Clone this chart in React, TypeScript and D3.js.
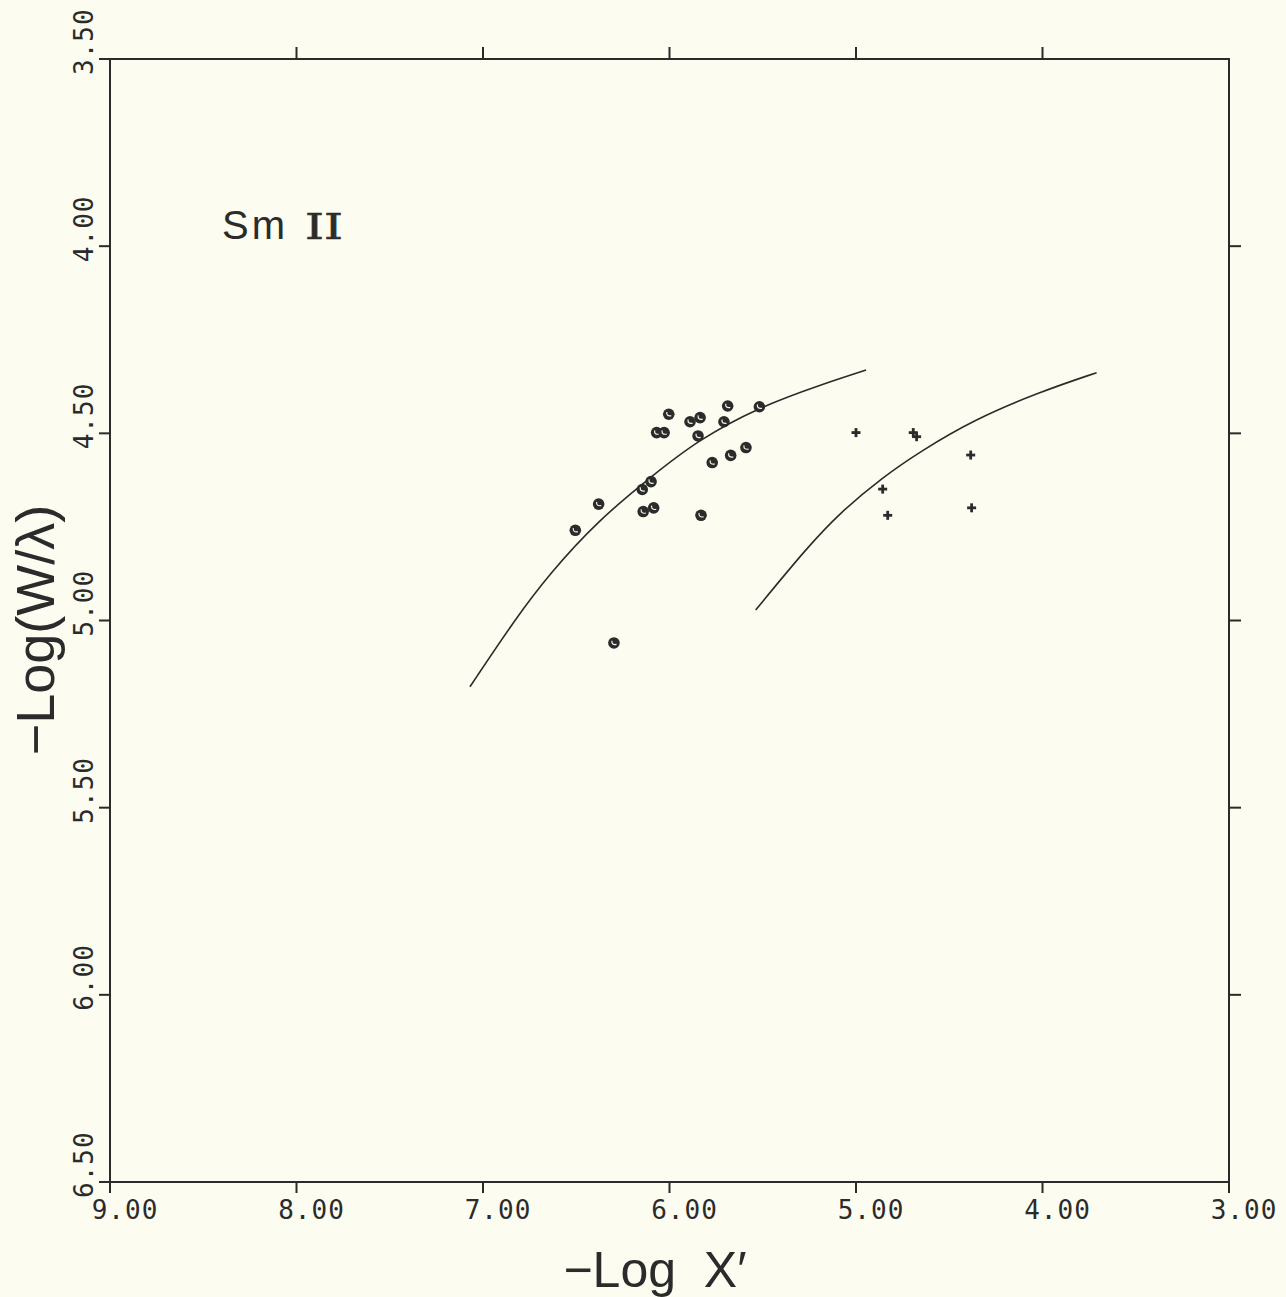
import React from "react";
import * as d3 from "d3";

const xTicks = [9, 8, 7, 6, 5, 4, 3];
const yTicks = [3.5, 4.0, 4.5, 5.0, 5.5, 6.0, 6.5];

const circleX = [6.004, 5.89, 5.836, 5.688, 5.518, 5.708, 6.069, 6.029, 5.847, 5.771, 5.672, 5.59, 6.099, 6.146, 6.38, 6.505, 6.141, 6.085, 5.831, 6.298];
const circleY = [4.449, 4.469, 4.458, 4.427, 4.429, 4.469, 4.498, 4.498, 4.507, 4.578, 4.559, 4.538, 4.629, 4.65, 4.689, 4.759, 4.709, 4.699, 4.719, 5.06];

const crossX = [5.0, 4.693, 4.675, 4.385, 4.857, 4.83, 4.38];
const crossY = [4.498, 4.498, 4.509, 4.558, 4.649, 4.719, 4.699];

const curve1X = [7.07, 6.819, 6.641, 6.39, 6.099, 5.847, 5.52, 5.193, 4.946];
const curve1Y = [5.177, 4.99, 4.874, 4.736, 4.616, 4.518, 4.43, 4.371, 4.331];

const curve2X = [5.538, 5.264, 5.086, 4.854, 4.657, 4.371, 4.013, 3.71];
const curve2Y = [4.972, 4.806, 4.712, 4.616, 4.549, 4.464, 4.389, 4.338];

const W = 1286;
const H = 1297;
const INK = "#2b2b2b";

export default function App() {
  const x = d3.scaleLinear().domain([9, 3]).range([110, 1229]);
  const y = d3.scaleLinear().domain([3.5, 6.5]).range([59, 1182]);

  const line = d3
    .line<[number, number]>()
    .x((d) => x(d[0]))
    .y((d) => y(d[1]))
    .curve(d3.curveBasis);

  const c1 = curve1X.map((v, i) => [v, curve1Y[i]] as [number, number]);
  const c2 = curve2X.map((v, i) => [v, curve2Y[i]] as [number, number]);

  const tickFont = "'DejaVu Sans Mono', monospace";
  const labelFont = "'Liberation Sans', 'DejaVu Sans', sans-serif";

  return (
    <svg
      width={W}
      height={H}
      style={{ position: "absolute", left: 0, top: 0, display: "block" }}
    >
      <rect x={0} y={0} width={W} height={H} fill="#fcfcf0" />
      {/* frame */}
      <rect
        x={x(9)}
        y={y(3.5)}
        width={x(3) - x(9)}
        height={y(6.5) - y(3.5)}
        fill="none"
        stroke={INK}
        strokeWidth={2}
      />
      {/* top ticks */}
      {xTicks.slice(1, -1).map((t) => (
        <line key={"tt" + t} x1={x(t)} x2={x(t)} y1={y(3.5)} y2={y(3.5) - 12} stroke={INK} strokeWidth={2} />
      ))}
      {/* bottom ticks */}
      {xTicks.map((t) => (
        <line key={"bt" + t} x1={x(t)} x2={x(t)} y1={y(6.5)} y2={y(6.5) + 11} stroke={INK} strokeWidth={2} />
      ))}
      {/* left ticks */}
      {yTicks.map((t) => (
        <line key={"lt" + t} x1={x(9)} x2={x(9) - 11} y1={y(t)} y2={y(t)} stroke={INK} strokeWidth={2} />
      ))}
      {/* right ticks */}
      {yTicks.slice(1, -1).map((t) => (
        <line key={"rt" + t} x1={x(3)} x2={x(3) + 12} y1={y(t)} y2={y(t)} stroke={INK} strokeWidth={2} />
      ))}
      {/* x tick labels */}
      {xTicks.map((t) => (
        <text
          key={"xl" + t}
          x={x(t) + 15}
          y={y(6.5) + 37}
          textAnchor="middle"
          fontFamily={tickFont}
          fontSize={26}
          letterSpacing={1}
          fill={INK}
        >
          {t.toFixed(2)}
        </text>
      ))}
      {/* y tick labels */}
      {yTicks.map((t) => (
        <text
          key={"yl" + t}
          transform={`translate(${x(9) - 17},${y(t) + 16}) rotate(-90)`}
          textAnchor="start"
          fontFamily={tickFont}
          fontSize={26}
          letterSpacing={1}
          fill={INK}
        >
          {t.toFixed(2)}
        </text>
      ))}
      {/* axis titles */}
      <text
        x={655}
        y={1287}
        textAnchor="middle"
        fontFamily={labelFont}
        fontSize={50}
        fill={INK}
        style={{ whiteSpace: "pre" }}
      >
        {"−Log  X′"}
      </text>
      <text
        transform={`translate(54,630) rotate(-90)`}
        textAnchor="middle"
        fontFamily={labelFont}
        fontSize={54}
        fill={INK}
      >
        −Log(W/λ)
      </text>
      {/* Sm II label */}
      <text x={222} y={239} fontFamily={labelFont} fontSize={40} letterSpacing={3} fill={INK}>
        Sm
      </text>
      <text
        x={305}
        y={239}
        fontFamily="'DejaVu Serif', serif"
        fontSize={35}
        fill={INK}
        stroke={INK}
        strokeWidth={0.6}
        textLength={38}
        lengthAdjust="spacingAndGlyphs"
      >
        II
      </text>
      {/* curves */}
      <path d={line(c1) || ""} fill="none" stroke={INK} strokeWidth={1.6} />
      <path d={line(c2) || ""} fill="none" stroke={INK} strokeWidth={1.6} />
      {/* circles */}
      {circleX.map((v, i) => {
        const cx = x(v);
        const cy = y(circleY[i]);
        return (
          <g key={"c" + i}>
            <circle cx={cx} cy={cy} r={5.8} fill={INK} />
            <path
              d={`M ${cx - 2} ${cy - 2.2} Q ${cx - 2.5} ${cy + 2.5} ${cx + 2.6} ${cy + 1.5}`}
              fill="none"
              stroke="#f4f4e8"
              strokeWidth={1.2}
            />
          </g>
        );
      })}
      {/* crosses */}
      {crossX.map((v, i) => {
        const cx = x(v);
        const cy = y(crossY[i]);
        return (
          <g key={"x" + i} stroke={INK} strokeWidth={2.8}>
            <line x1={cx - 4.5} x2={cx + 4.5} y1={cy} y2={cy} />
            <line x1={cx} x2={cx} y1={cy - 4.5} y2={cy + 4.5} />
          </g>
        );
      })}
    </svg>
  );
}
